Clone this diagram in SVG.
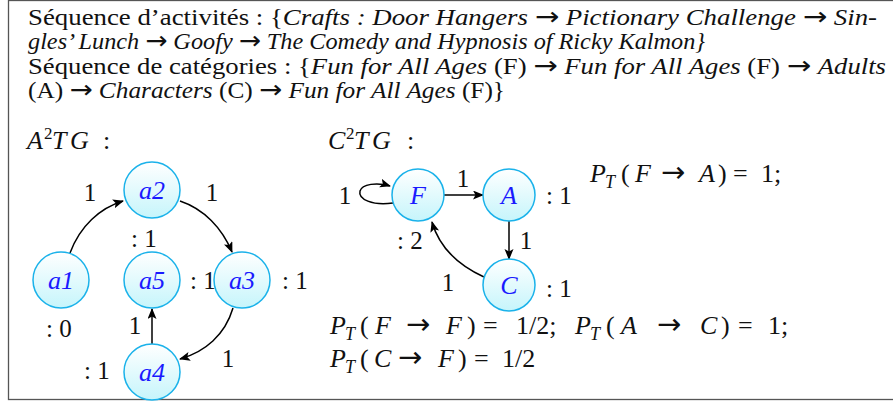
<svg xmlns="http://www.w3.org/2000/svg" width="893" height="402" viewBox="0 0 893 402" font-family="'Liberation Serif', 'DejaVu Serif', serif">
<style>
text{font-family:'Liberation Serif','DejaVu Serif',serif;fill:#111;}
.t{font-size:23px;}
.m{font-size:26px;}
.l{font-size:25px;}
.i{font-style:italic;}
.ar{font-family:'DejaVu Sans',sans-serif;font-size:25px;font-style:normal;}
.mar{font-family:'DejaVu Sans',sans-serif;font-size:29px;font-style:normal;}
.sub{font-size:18px;font-style:italic;}
.sup{font-size:17px;}
.nl{font-size:26px;font-style:italic;fill:#1a1aff;text-anchor:middle;}
.c{text-anchor:middle;}
.node{fill:url(#g);stroke:#1ab2ea;stroke-width:1.5;}
.e{fill:none;stroke:#000;stroke-width:1.5;}
</style>
<defs>
<linearGradient id="g" x1="0" y1="0" x2="0" y2="1">
<stop offset="0" stop-color="#ffffff"/>
<stop offset="1" stop-color="#c6f5fb"/>
</linearGradient>
<marker id="ar" markerWidth="12" markerHeight="10" refX="10" refY="4.5" orient="auto" markerUnits="userSpaceOnUse">
<path d="M0,0 L11,4.5 L0,9 L2.5,4.5 Z" fill="#000"/>
</marker>
</defs>
<rect x="8.5" y="0.5" width="890" height="399" fill="#fff" stroke="#555" stroke-width="1.3"/>

<text class="t" x="28" y="25" textLength="849" lengthAdjust="spacingAndGlyphs">Séquence d’activités : {<tspan class="i">Crafts : Door Hangers</tspan> <tspan class="ar">→</tspan> <tspan class="i">Pictionary Challenge</tspan> <tspan class="ar">→</tspan> <tspan class="i">Sin-</tspan></text>
<text class="t" x="28" y="49" textLength="677" lengthAdjust="spacingAndGlyphs"><tspan class="i">gles’ Lunch</tspan> <tspan class="ar">→</tspan> <tspan class="i">Goofy</tspan> <tspan class="ar">→</tspan> <tspan class="i">The Comedy and Hypnosis of Ricky Kalmon}</tspan></text>
<text class="t" x="28" y="74" textLength="858" lengthAdjust="spacingAndGlyphs">Séquence de catégories : {<tspan class="i">Fun for All Ages</tspan> (F) <tspan class="ar">→</tspan> <tspan class="i">Fun for All Ages</tspan> (F) <tspan class="ar">→</tspan> <tspan class="i">Adults</tspan></text>
<text class="t" x="28" y="98" textLength="477" lengthAdjust="spacingAndGlyphs">(A) <tspan class="ar">→</tspan> <tspan class="i">Characters</tspan> (C) <tspan class="ar">→</tspan> <tspan class="i">Fun for All Ages</tspan> (F)}</text>

<text class="m"><tspan class="i" x="27" y="149">A</tspan><tspan class="sup" x="44" y="139">2</tspan><tspan class="i" x="52" y="149">T</tspan><tspan class="i" x="70" y="149">G</tspan><tspan x="103" y="149">:</tspan></text>
<text class="m"><tspan class="i" x="328" y="149">C</tspan><tspan class="sup" x="346" y="139">2</tspan><tspan class="i" x="354" y="149">T</tspan><tspan class="i" x="372" y="149">G</tspan><tspan x="407" y="149">:</tspan></text>

<g id="connectors">
<path class="e" d="M70,253 C80,226 100,208 123,201" marker-end="url(#ar)"/>
<path class="e" d="M180,201 C204,209 222,228 232,252" marker-end="url(#ar)"/>
<path class="e" d="M233,308 C225,335 205,352 180,359" marker-end="url(#ar)"/>
<path class="e" d="M152,344 L152,309" marker-end="url(#ar)"/>
<path class="e" d="M393,203 C372,206 358,199 360,191 C362,184 377,182 390,186" marker-end="url(#ar)"/>
<path class="e" d="M444,195 L483,195" marker-end="url(#ar)"/>
<path class="e" d="M509,221 L509,259" marker-end="url(#ar)"/>
<path class="e" d="M484,277 C460,266 440,250 432,222" marker-end="url(#ar)"/>
</g>

<g id="edge-labels">
<text class="l c" x="90" y="201">1</text>
<text class="l c" x="212" y="201">1</text>
<text class="l c" x="135" y="334">1</text>
<text class="l c" x="228" y="367">1</text>
<text class="l c" x="345" y="204">1</text>
<text class="l c" x="463" y="187">1</text>
<text class="l c" x="526" y="249">1</text>
<text class="l c" x="448" y="291">1</text>
</g>

<g id="node-a2"><circle class="node" cx="152" cy="190" r="28"/><text class="nl" x="152" y="199">a2</text><text class="l" x="131" y="247">: 1</text></g>
<g id="node-a1"><circle class="node" cx="61" cy="280" r="28"/><text class="nl" x="61" y="289">a1</text><text class="l" x="46" y="337">: 0</text></g>
<g id="node-a5"><circle class="node" cx="152" cy="280" r="28"/><text class="nl" x="152" y="289">a5</text><text class="l" x="190" y="289">: 1</text></g>
<g id="node-a3"><circle class="node" cx="242" cy="280" r="28"/><text class="nl" x="242" y="289">a3</text><text class="l" x="282" y="289">: 1</text></g>
<g id="node-a4"><circle class="node" cx="152" cy="372" r="28"/><text class="nl" x="152" y="381">a4</text><text class="l" x="84" y="379">: 1</text></g>

<g id="node-F"><circle class="node" cx="418" cy="195" r="26"/><text class="nl" x="418" y="204">F</text><text class="l" x="397" y="249">: 2</text></g>
<g id="node-A"><circle class="node" cx="509" cy="195" r="26"/><text class="nl" x="509" y="204">A</text><text class="l" x="546" y="204">: 1</text></g>
<g id="node-C"><circle class="node" cx="509" cy="285" r="26"/><text class="nl" x="509" y="294">C</text><text class="l" x="546" y="297">: 1</text></g>

<text class="m"><tspan class="i" x="590" y="182">P</tspan><tspan class="sub" x="605" y="188">T</tspan><tspan x="621" y="182">(</tspan><tspan class="i" x="635" y="182">F</tspan><tspan class="mar" x="661" y="182">→</tspan><tspan class="i" x="699" y="182">A</tspan><tspan x="718" y="182">)</tspan><tspan x="733" y="182">=</tspan><tspan x="761" y="182">1;</tspan></text>

<text class="m"><tspan class="i" x="330" y="334">P</tspan><tspan class="sub" x="345" y="340">T</tspan><tspan x="360" y="334">(</tspan><tspan class="i" x="375" y="334">F</tspan><tspan class="mar" x="406" y="334">→</tspan><tspan class="i" x="446" y="334">F</tspan><tspan x="467" y="334">)</tspan><tspan x="483" y="334">=</tspan><tspan x="516" y="334">1/2;</tspan><tspan class="i" x="575" y="334">P</tspan><tspan class="sub" x="590" y="340">T</tspan><tspan x="606" y="334">(</tspan><tspan class="i" x="621" y="334">A</tspan><tspan class="mar" x="657" y="334">→</tspan><tspan class="i" x="700" y="334">C</tspan><tspan x="721" y="334">)</tspan><tspan x="738" y="334">=</tspan><tspan x="768" y="334">1;</tspan></text>

<text class="m"><tspan class="i" x="330" y="367">P</tspan><tspan class="sub" x="345" y="373">T</tspan><tspan x="360" y="367">(</tspan><tspan class="i" x="374" y="367">C</tspan><tspan class="mar" x="398" y="367">→</tspan><tspan class="i" x="438" y="367">F</tspan><tspan x="458" y="367">)</tspan><tspan x="474" y="367">=</tspan><tspan x="502" y="367">1/2</tspan></text>
</svg>
